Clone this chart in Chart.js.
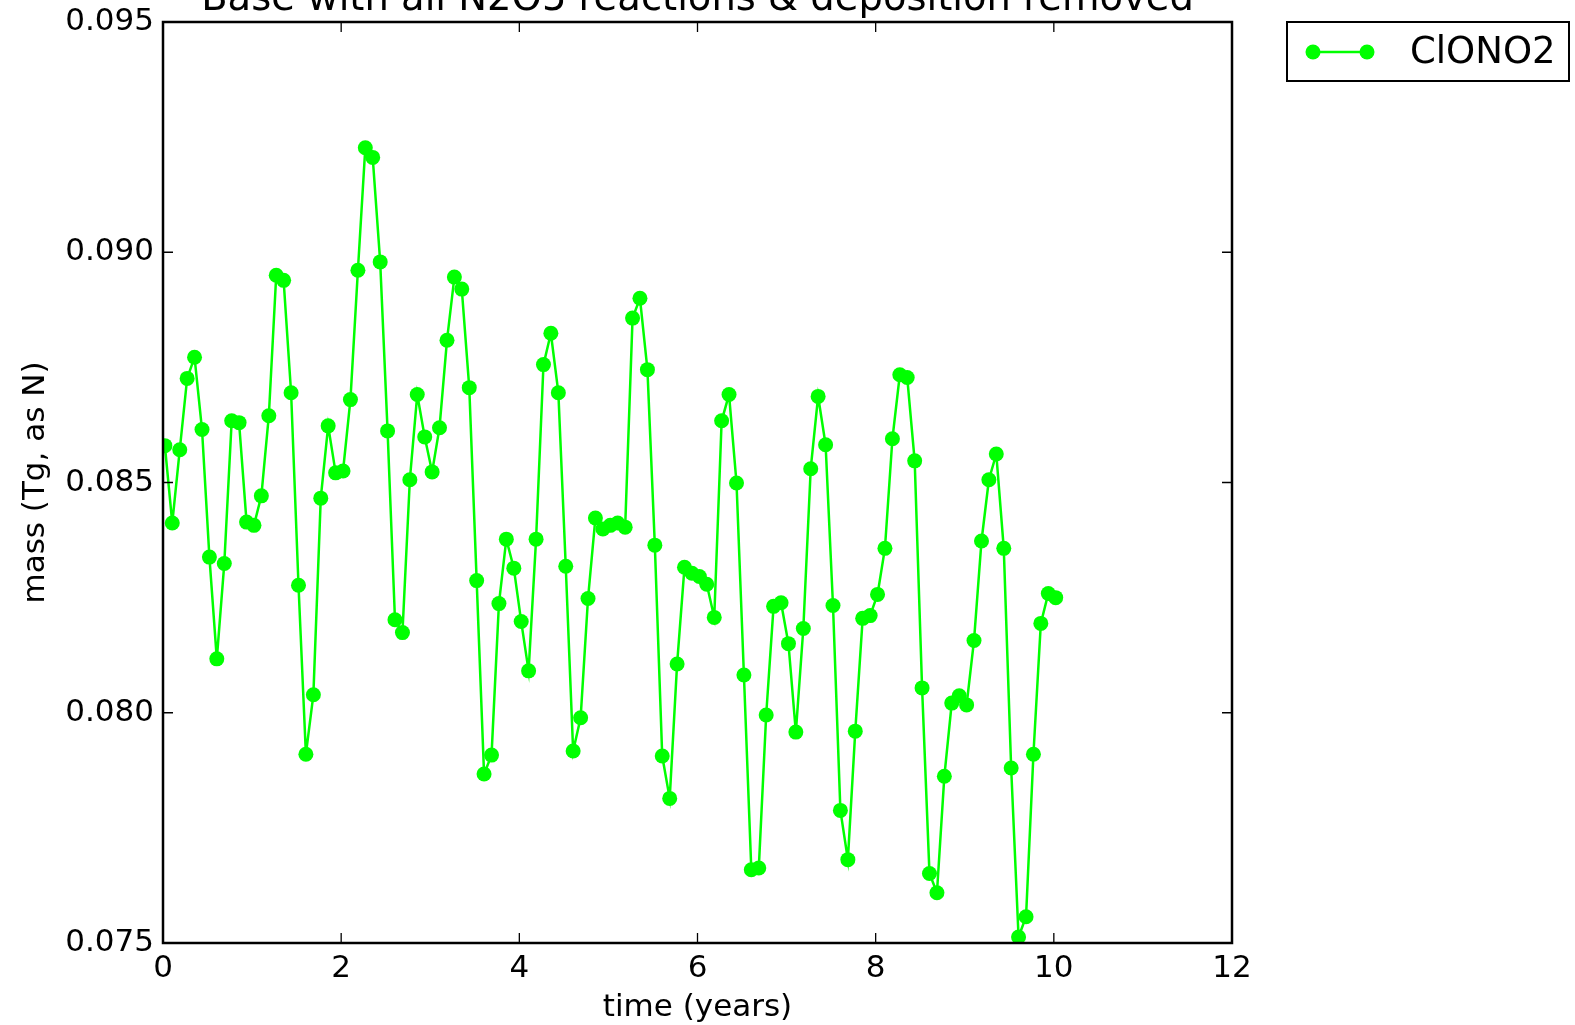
<!DOCTYPE html>
<html>
<head>
<meta charset="utf-8">
<script src="https://cdn.jsdelivr.net/npm/chart.js@4.4.0/dist/chart.umd.min.js"></script>
<style>
html,body{margin:0;padding:0;background:#fff;}
#wrap{width:1575px;height:1025px;position:relative;}
</style>
</head>
<body>
<div id="wrap"><canvas id="c" width="1575" height="1025"></canvas></div>
<script>
const chartTitle = 'Base with all N2O5 reactions & deposition removed';
const seriesName = 'ClONO2';
const xAxisLabel = 'time (years)';
const yAxisLabel = 'mass (Tg, as N)';

const xTickValues = [0, 2, 4, 6, 8, 10, 12];
const yTickValues = [0.075, 0.080, 0.085, 0.090, 0.095];

const timeYears = [
  0.021, 0.104, 0.188, 0.271, 0.354, 0.438, 0.521, 0.604, 0.688, 0.771, 0.854, 0.938,
  1.021, 1.104, 1.188, 1.271, 1.354, 1.438, 1.521, 1.604, 1.688, 1.771, 1.854, 1.938,
  2.021, 2.104, 2.188, 2.271, 2.354, 2.438, 2.521, 2.604, 2.688, 2.771, 2.854, 2.938,
  3.021, 3.104, 3.188, 3.271, 3.354, 3.438, 3.521, 3.604, 3.688, 3.771, 3.854, 3.938,
  4.021, 4.104, 4.188, 4.271, 4.354, 4.438, 4.521, 4.604, 4.688, 4.771, 4.854, 4.938,
  5.021, 5.104, 5.188, 5.271, 5.354, 5.438, 5.521, 5.604, 5.688, 5.771, 5.854, 5.938,
  6.021, 6.104, 6.188, 6.271, 6.354, 6.438, 6.521, 6.604, 6.688, 6.771, 6.854, 6.938,
  7.021, 7.104, 7.188, 7.271, 7.354, 7.438, 7.521, 7.604, 7.688, 7.771, 7.854, 7.938,
  8.021, 8.104, 8.188, 8.271, 8.354, 8.438, 8.521, 8.604, 8.688, 8.771, 8.854, 8.938,
  9.021, 9.104, 9.188, 9.271, 9.354, 9.438, 9.521, 9.604, 9.688, 9.771, 9.854, 9.938,
  10.021
];

const clono2Mass = [
  0.08580, 0.08412, 0.08571, 0.08726, 0.08772, 0.08615, 0.08338, 0.08117, 0.08324, 0.08634, 0.08630, 0.08414,
  0.08407, 0.08471, 0.08645, 0.08950, 0.08939, 0.08695, 0.08277, 0.07910, 0.08039, 0.08466, 0.08623, 0.08521,
  0.08525, 0.08680, 0.08961, 0.09227, 0.09206, 0.08979, 0.08612, 0.08202, 0.08174, 0.08506, 0.08691, 0.08599,
  0.08523, 0.08619, 0.08809, 0.08946, 0.08920, 0.08706, 0.08287, 0.07867, 0.07908, 0.08237, 0.08377, 0.08314,
  0.08198, 0.08091, 0.08377, 0.08756, 0.08824, 0.08695, 0.08318, 0.07917, 0.07989, 0.08248, 0.08423, 0.08399,
  0.08407, 0.08412, 0.08403, 0.08857, 0.08900, 0.08745, 0.08364, 0.07906, 0.07814, 0.08106, 0.08316, 0.08303,
  0.08296, 0.08279, 0.08207, 0.08634, 0.08691, 0.08499, 0.08082, 0.07659, 0.07663, 0.07995, 0.08231, 0.08239,
  0.08150, 0.07958, 0.08183, 0.08530, 0.08687, 0.08582, 0.08233, 0.07788, 0.07681, 0.07960, 0.08205, 0.08211,
  0.08257, 0.08357, 0.08595, 0.08734, 0.08728, 0.08547, 0.08054, 0.07651, 0.07609, 0.07862, 0.08021, 0.08037,
  0.08017, 0.08157, 0.08373, 0.08506, 0.08562, 0.08357, 0.07880, 0.07513, 0.07557, 0.07910, 0.08194, 0.08259,
  0.08250
];

const GREEN = '#00ff00';
const FONT = 'DejaVu Sans';

const points = timeYears.map((t, i) => ({x: t, y: clono2Mass[i]}));

const decorPlugin = {
  id: 'decor',
  afterDatasetsDraw(chart) {
    const {ctx, chartArea: a, scales: {x, y}} = chart;
    ctx.save();
    ctx.strokeStyle = '#000';
    ctx.lineWidth = 1.3;
    ctx.beginPath();
    x.ticks.forEach(t => {
      const p = x.getPixelForValue(t.value);
      ctx.moveTo(p, a.bottom); ctx.lineTo(p, a.bottom - 10);
      ctx.moveTo(p, a.top); ctx.lineTo(p, a.top + 10);
    });
    y.ticks.forEach(t => {
      const p = y.getPixelForValue(t.value);
      ctx.moveTo(a.left, p); ctx.lineTo(a.left + 10, p);
      ctx.moveTo(a.right, p); ctx.lineTo(a.right - 10, p);
    });
    ctx.stroke();
    ctx.lineWidth = 2.5;
    ctx.strokeRect(a.left, a.top, a.right - a.left, a.bottom - a.top);
    ctx.restore();
  },
  afterDraw(chart) {
    const {ctx, chartArea: a} = chart;
    ctx.save();
    // title
    ctx.fillStyle = '#000';
    ctx.font = '38.5px "' + FONT + '"';
    ctx.textAlign = 'center';
    ctx.textBaseline = 'alphabetic';
    ctx.fillText(chartTitle, (a.left + a.right) / 2, 10);
    // legend
    const lx = 1287, ly = 22, lw = 282, lh = 59;
    ctx.fillStyle = '#fff';
    ctx.fillRect(lx, ly, lw, lh);
    ctx.strokeStyle = '#000';
    ctx.lineWidth = 2;
    ctx.strokeRect(lx, ly, lw, lh);
    const cy = ly + lh / 2 + 0.5;
    ctx.strokeStyle = GREEN;
    ctx.lineWidth = 2.5;
    ctx.beginPath();
    ctx.moveTo(1313, cy); ctx.lineTo(1367, cy);
    ctx.stroke();
    ctx.fillStyle = GREEN;
    [1313, 1367].forEach(px => {
      ctx.beginPath(); ctx.arc(px, cy, 7.5, 0, Math.PI * 2); ctx.fill();
    });
    ctx.fillStyle = '#000';
    ctx.font = '37px "' + FONT + '"';
    ctx.textAlign = 'left';
    ctx.textBaseline = 'middle';
    ctx.fillText(seriesName, 1410, cy + 1);
    ctx.restore();
  }
};

new Chart(document.getElementById('c'), {
  type: 'line',
  data: {
    datasets: [{
      label: seriesName,
      data: points,
      borderColor: GREEN,
      backgroundColor: GREEN,
      borderWidth: 2.5,
      pointRadius: 7.5,
      pointHoverRadius: 7.5,
      pointBorderWidth: 0,
      pointBackgroundColor: GREEN,
      tension: 0,
      fill: false
    }]
  },
  options: {
    responsive: false,
    animation: false,
    devicePixelRatio: 1,
    events: [],
    layout: {padding: {top: 22, right: 343, left: 0, bottom: 0}},
    plugins: {
      legend: {display: false},
      title: {display: false},
      tooltip: {enabled: false}
    },
    scales: {
      x: {
        type: 'linear',
        min: 0, max: 12,
        afterBuildTicks: s => { s.ticks = xTickValues.map(v => ({value: v})); },
        afterFit: s => { s.height = 82; s.paddingLeft = 0; s.paddingRight = 0; },
        ticks: {
          color: '#000',
          font: {family: FONT, size: 31},
          padding: 7,
          maxRotation: 0,
          callback: v => String(v)
        },
        grid: {display: true, drawOnChartArea: false, drawTicks: false},
        border: {display: false},
        title: {
          display: true, text: xAxisLabel, color: '#000',
          font: {family: FONT, size: 31},
          padding: {top: 0, bottom: -2}
        }
      },
      y: {
        type: 'linear',
        min: 0.075, max: 0.095,
        afterBuildTicks: s => { s.ticks = yTickValues.map(v => ({value: v})); },
        afterFit: s => { s.width = 163; s.paddingTop = 0; s.paddingBottom = 0; },
        ticks: {
          color: '#000',
          font: {family: FONT, size: 31},
          padding: 9,
          callback: v => Number(v).toFixed(3)
        },
        grid: {display: true, drawOnChartArea: false, drawTicks: false},
        border: {display: false},
        title: {
          display: true, text: yAxisLabel, color: '#000',
          font: {family: FONT, size: 31},
          padding: {top: 17, bottom: 0}
        }
      }
    }
  },
  plugins: [decorPlugin]
});
</script>
</body>
</html>
